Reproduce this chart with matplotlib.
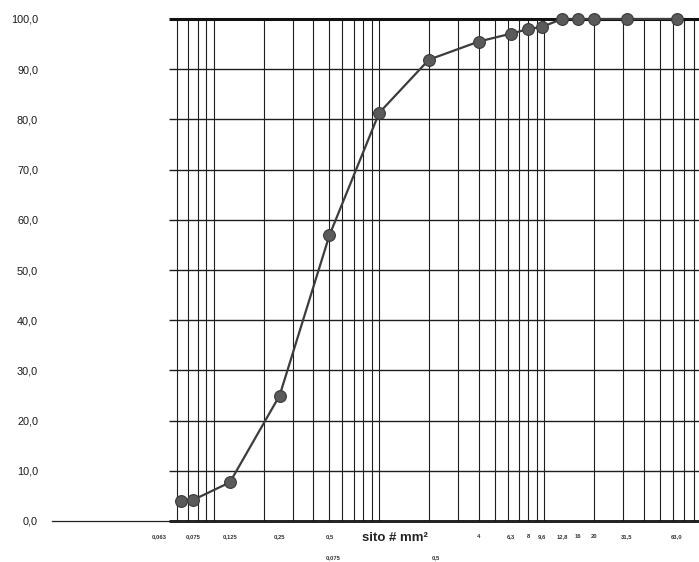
import numpy as np
import matplotlib.pyplot as plt
from matplotlib.ticker import NullLocator

# --- données ---
sieve_mm = [0.063, 0.075, 0.125, 0.25, 0.5, 1, 2, 4, 6.3, 8, 9.6, 12.8, 16, 20, 31.5, 63]
passing = [4.0, 4.2, 7.7, 25.0, 56.9, 81.3, 91.9, 95.5, 97.1, 98.0, 98.4, 100, 100, 100, 100, 100]

# étiquettes de l'axe x (première ligne)
xtick_pos = [0.047, 0.075, 0.125, 0.25, 0.5, 4, 6.3, 8, 9.6, 12.8, 16, 20, 31.5, 63]
xtick_lab = ["0,063", "0,075", "0,125", "0,25", "0,5", "4", "6,3", "8", "9,6",
             "12,8", "16", "20", "31,5", "63,0"]
# deuxième ligne d'étiquettes
xrow2_pos = [0.53, 2.2]
xrow2_lab = ["0,075", "0,5"]

yticks = list(range(0, 101, 10))
ytick_lab = [f"{v},0" for v in yticks]

plt.rcParams['font.family'] = ['Liberation Sans', 'DejaVu Sans']

fig = plt.figure(figsize=(6.99, 5.62), dpi=100)
ax = fig.add_axes([52 / 699, 41 / 562, 647 / 699, 502 / 562])

ax.set_xscale('log')
x_left, x_right = 0.01049, 86.1
grid_start = 0.0535
ax.set_xlim(x_left, x_right)
ax.set_ylim(0, 100)

# grille (papier semi-log)
grid_x = [k * 10.0 ** n for n in range(-2, 2) for k in range(1, 10)]
grid_x = [g for g in grid_x if 0.059 < g < x_right]
ax.vlines(grid_x, 0, 100, colors='#1e1e1e', lw=0.8, zorder=1)
ax.hlines(yticks[1:-1], grid_start, x_right, colors='#1e1e1e', lw=1.0, zorder=1)
ax.hlines(100, grid_start, x_right, colors='#111111', lw=2.2, zorder=1, clip_on=False)
ax.hlines(0, grid_start, x_right, colors='#111111', lw=2.0, zorder=1, clip_on=False)

# courbe granulométrique
ax.plot(sieve_mm, passing, color='#3c3c3c', lw=1.6, marker='o', markersize=8.5,
        markerfacecolor='#5a5a5a', markeredgecolor='#3a3a3a', markeredgewidth=0.8,
        zorder=3, clip_on=False)

# axes
for side in ['left', 'top', 'right']:
    ax.spines[side].set_visible(False)
ax.spines['bottom'].set_linewidth(0.9)
ax.spines['bottom'].set_color('#222222')

ax.xaxis.set_minor_locator(NullLocator())
ax.set_xticks(xtick_pos, xtick_lab)
ax.tick_params(axis='x', length=0, pad=9.5, labelsize=4.2)
for t in ax.get_xticklabels():
    t.set_fontweight('bold')
    t.set_color('#333333')

ax.set_yticks(yticks, ytick_lab)
ax.tick_params(axis='y', length=0, pad=10, labelsize=7.8, labelcolor='#1a1a1a')

for xp, lab in zip(xrow2_pos, xrow2_lab):
    ax.text(xp, -0.072, lab, transform=ax.get_xaxis_transform(), ha='center',
            va='center', fontsize=4.2, fontweight='bold', color='#333333')

ax.text(0.530, -0.034, "sito # mm²", transform=ax.transAxes, ha='center',
        va='center', fontsize=9.5, fontweight='bold', color='#222222')

fig.savefig('out.png', dpi=100, facecolor='white')
